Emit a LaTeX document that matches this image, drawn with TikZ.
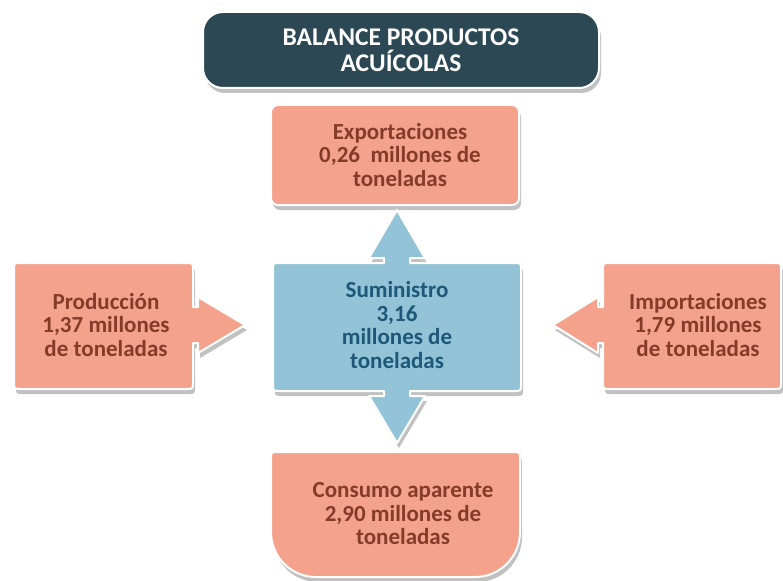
\documentclass[tikz,border=0pt]{standalone}
\usepackage{fontspec}
\setmainfont{Carlito}
\usetikzlibrary{shadows}
\definecolor{salmonfill}{HTML}{F4A28C}
\definecolor{salmontext}{HTML}{843C28}
\definecolor{bluefill}{HTML}{93C3D7}
\definecolor{bluetext}{HTML}{1E5878}
\definecolor{titlefill}{HTML}{2B4854}
\begin{document}
\begin{tikzpicture}[x=1pt,y=-1pt,
  shapebox/.style={draw=white, line width=2pt, line join=round,
    drop shadow={shadow xshift=2pt, shadow yshift=-5pt, opacity=0.3, fill=black!80}},
  salmonbox/.style={shapebox, fill=salmonfill},
  bluebox/.style={shapebox, fill=bluefill},
  titlebox/.style={shapebox, fill=titlefill},
  lbl/.style={align=center, inner sep=0pt, text=salmontext,
    font=\bfseries\fontsize{23}{23.5}\selectfont},
  bluelbl/.style={lbl, text=bluetext},
  titlelbl/.style={align=center, inner sep=0pt, text=white,
    font=\bfseries\fontsize{25.5}{26}\selectfont}]
\path[use as bounding box, fill=white] (0,0) rectangle (783,580);

% title
\draw[titlebox, rounded corners=20] (203,12) rectangle (599,88);
\node[titlelbl] (title) at (401,50) {BALANCE PRODUCTOS\\ACUÍCOLAS};

% exportaciones
\draw[salmonbox, rounded corners=7] (271,105) rectangle (519,205);
\node[lbl] (export) at (400,155) {Exportaciones\\0,26\ \ millones de\\toneladas};

% suministro (up-down arrow callout)
\draw[bluebox] (273,270) .. controls (273,263) .. (280,263) -- (384,263) -- (384,258)
  -- (369,258) -- (397,210) -- (425,258) -- (410,258) -- (410,263)
  -- (514,263) .. controls (521,263) .. (521,270) -- (521,384)
  .. controls (521,391) .. (514,391) -- (410,391) -- (410,396) -- (425,396)
  -- (397,443) -- (369,396) -- (384,396) -- (384,391) -- (280,391)
  .. controls (273,391) .. (273,384) -- cycle;
\node[bluelbl] (sumin) at (397,325) {Suministro\\3,16\\millones de\\toneladas};

% produccion (right arrow callout)
\draw[salmonbox] (14,270) .. controls (14,263) .. (21,263) -- (186,263)
  .. controls (193,263) .. (193,270) -- (193,307) -- (198,307) -- (198,297)
  -- (245,325) -- (198,353) -- (198,343) -- (193,343) -- (193,382)
  .. controls (193,389) .. (186,389) -- (21,389) .. controls (14,389) .. (14,382) -- cycle;
\node[lbl] (prod) at (106,325) {Producción\\1,37 millones\\de toneladas};

% importaciones (left arrow callout)
\draw[salmonbox] (781,270) .. controls (781,263) .. (774,263) -- (610,263)
  .. controls (603,263) .. (603,270) -- (603,307) -- (598,307) -- (598,297)
  -- (553,325) -- (598,353) -- (598,343) -- (603,343) -- (603,382)
  .. controls (603,389) .. (610,389) -- (774,389) .. controls (781,389) .. (781,382) -- cycle;
\node[lbl] (import) at (698,325) {Importaciones\\1,79 millones\\de toneladas};

% consumo
\draw[salmonbox] (271,459) .. controls (271,452) .. (278,452) -- (513,452)
  .. controls (520,452) .. (520,459) -- (520,532)
  .. controls (520,556.9) and (499.9,577) .. (475,577) -- (316,577)
  .. controls (291.1,577) and (271,556.9) .. (271,532) -- cycle;
\node[lbl] (consumo) at (403,514) {Consumo aparente\\2,90 millones de\\toneladas};
\end{tikzpicture}
\end{document}
